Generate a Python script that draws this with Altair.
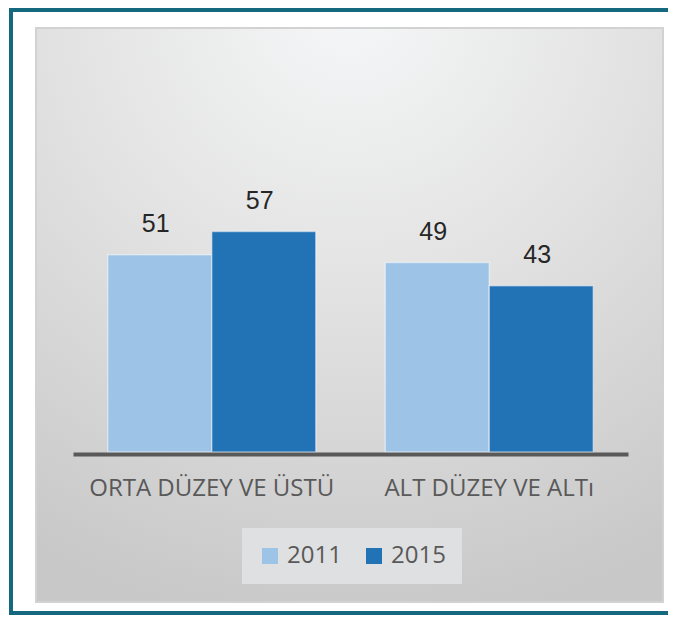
import altair as alt
import pandas as pd

categories = ["ORTA DÜZEY VE ÜSTÜ", "ALT DÜZEY VE ALTı"]
years = ["2011", "2015"]
values_2011 = [51, 49]
values_2015 = [57, 43]
colors = ["#9dc3e6", "#2272b6"]

rows = []
for i, c in enumerate(categories):
    rows.append({"cat": c, "year": years[0], "value": values_2011[i]})
    rows.append({"cat": c, "year": years[1], "value": values_2015[i]})
df = pd.DataFrame(rows)
one = pd.DataFrame({"k": [0]})

W, H = 555, 232

# frame: teal block with a white interior (right edge lies outside the picture)
frame_outer = alt.Chart(one).mark_rect(fill="#14697f").encode(
    x=alt.value(-64), x2=alt.value(595), y=alt.value(-212), y2=alt.value(395)
)
frame_inner = alt.Chart(one).mark_rect(fill="white").encode(
    x=alt.value(-60), x2=alt.value(595), y=alt.value(-208), y2=alt.value(391)
)

grad = alt.RadialGradient(
    gradient="radial", x1=0.5, y1=0.0, r1=0, x2=0.5, y2=0.0, r2=1.0,
    stops=[
        alt.GradientStop(color="#f6f7f8", offset=0),
        alt.GradientStop(color="#e3e3e3", offset=0.45),
        alt.GradientStop(color="#c8c8c8", offset=1),
    ],
)
panel = alt.Chart(one).mark_rect(fill=grad, stroke="#d2d2d2", strokeWidth=2).encode(
    x=alt.value(-37), x2=alt.value(590), y=alt.value(-192), y2=alt.value(382)
)

xenc = alt.X(
    "cat:N", sort=categories,
    scale=alt.Scale(paddingInner=0, paddingOuter=0),
    axis=alt.Axis(
        title=None, labelAngle=0, ticks=False, domainColor="#595959", domainWidth=4,
        labelFont="Open Sans", labelFontSize=24, labelColor="#595959", labelPadding=22,
        labelLimit=0, offset=2, zindex=2,
    ),
)
xoff = alt.XOffset("year:N", sort=years, scale=alt.Scale(paddingInner=0, paddingOuter=0.334))
yenc = alt.Y("value:Q", scale=alt.Scale(domain=[0, 60]), axis=None)

bars = alt.Chart(df).mark_bar(stroke="white", strokeOpacity=0.45, strokeWidth=1.5).encode(
    x=xenc,
    xOffset=xoff,
    y=yenc,
    color=alt.Color(
        "year:N", scale=alt.Scale(domain=years, range=colors),
        legend=alt.Legend(
            title=None, orient="none", legendX=169, legendY=308, direction="horizontal",
            symbolType="square", symbolSize=256, symbolStrokeWidth=0,
            labelFont="Open Sans", labelFontSize=24, labelColor="#595959",
            fillColor="#dfe0e1", padding=16, columnPadding=20, labelOffset=5,
        ),
    ),
)

labels = alt.Chart(df).mark_text(
    font="Liberation Sans", fontSize=25, color="#262626", baseline="alphabetic", dy=-23, dx=-4
).encode(x=xenc, xOffset=xoff, y=yenc, text="value:Q")

chart = alt.layer(frame_outer, frame_inner, panel, bars, labels).properties(
    width=W, height=H,
    padding={"left": 65, "top": 212, "right": 40, "bottom": 163},
    autosize=alt.AutoSizeParams(type="none"),
    background="white",
).configure_view(strokeOpacity=0)

chart.save("out.html", embed_options={"renderer": "svg", "actions": False})
